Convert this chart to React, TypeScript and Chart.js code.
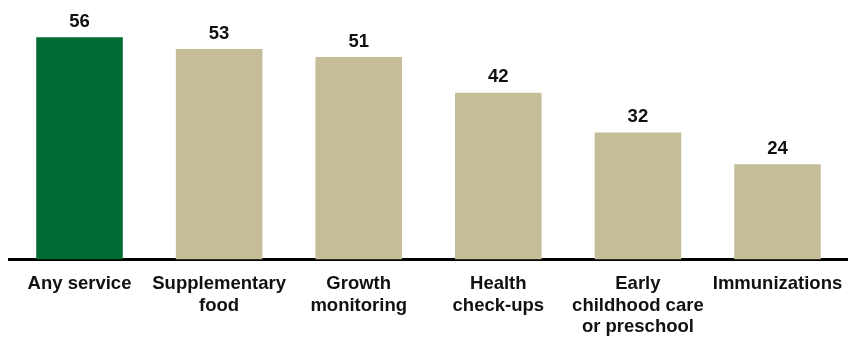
import React, { useEffect, useRef } from "react";
import { Chart, registerables } from "chart.js";

Chart.register(...registerables);

const categories: string[][] = [
  ["Any service"],
  ["Supplementary", "food"],
  ["Growth", "monitoring"],
  ["Health", "check-ups"],
  ["Early", "childhood care", "or preschool"],
  ["Immunizations"],
];
const percentages: number[] = [56, 53, 51, 42, 32, 24];
const barColors: string[] = ["#016b35", "#c4bd98", "#c4bd98", "#c4bd98", "#c4bd98", "#c4bd98"];

const FONT = "'Liberation Sans', Arial, Helvetica, sans-serif";

// Writes each bar's value above its top edge
const valueLabels = {
  id: "valueLabels",
  afterDatasetsDraw(chart: any) {
    const ctx = chart.ctx;
    const meta = chart.getDatasetMeta(0);
    ctx.save();
    ctx.font = `bold 18.5px ${FONT}`;
    ctx.fillStyle = "#111";
    ctx.textAlign = "center";
    ctx.textBaseline = "alphabetic";
    meta.data.forEach((bar: any, i: number) => {
      ctx.fillText(String(chart.data.datasets[0].data[i]), bar.x, bar.y - 10.5);
    });
    ctx.restore();
  },
};

export default function App() {
  const canvasRef = useRef<HTMLCanvasElement | null>(null);

  useEffect(() => {
    if (!canvasRef.current) return;
    const chart = new Chart(canvasRef.current, {
      type: "bar",
      data: {
        labels: categories,
        datasets: [
          {
            data: percentages,
            backgroundColor: barColors,
            borderWidth: 0,
            barPercentage: 0.62,
            categoryPercentage: 1,
          },
        ],
      },
      options: {
        animation: false,
        responsive: false,
        layout: { padding: { left: 9.7, right: 4.7, top: 21.3, bottom: 0 } },
        plugins: {
          legend: { display: false },
          tooltip: { enabled: false },
        },
        scales: {
          x: {
            grid: { display: false, drawTicks: false },
            border: { display: true, color: "#000", width: 3 },
            ticks: {
              color: "#111",
              padding: 14,
              maxRotation: 0,
              autoSkip: false,
              font: { family: FONT, size: 18.5, weight: "bold", lineHeight: 1.15 },
            },
            afterFit: (axis: any) => {
              axis.height = 77.5;
              // labels may overhang the plot edges; keep the plot width fixed
              axis.paddingLeft = 0;
              axis.paddingRight = 0;
            },
          },
          y: {
            display: false,
            min: 0,
            max: 60,
          },
        },
      },
      plugins: [valueLabels],
    });
    return () => chart.destroy();
  }, []);

  return (
    <div style={{ position: "absolute", left: 0, top: 0, width: 852, height: 337, background: "#fff" }}>
      <canvas ref={canvasRef} width={852} height={337} style={{ display: "block" }} />
    </div>
  );
}
